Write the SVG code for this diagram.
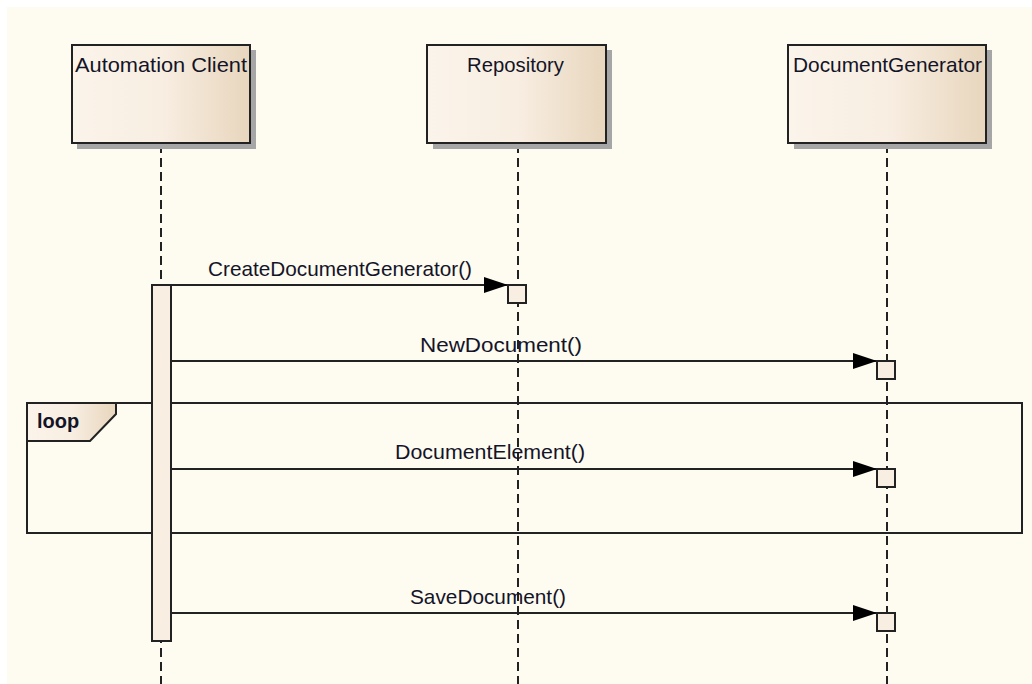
<svg xmlns="http://www.w3.org/2000/svg" width="1032" height="684" viewBox="0 0 1032 684">
<defs>
<linearGradient id="g" x1="0" y1="0" x2="1" y2="0">
<stop offset="0" stop-color="#FBF4EA"/>
<stop offset="0.5" stop-color="#F8EEE2"/>
<stop offset="1" stop-color="#E8D6BD"/>
</linearGradient>
<marker id="ah" markerWidth="24" markerHeight="16" refX="24" refY="8" orient="auto" markerUnits="userSpaceOnUse">
<path d="M0,0 L24,8 L0,16 Z" fill="#000"/>
</marker>
<style>
.t{font-family:"Liberation Sans",Arial,sans-serif;font-size:21px;fill:#141428}
.c{text-anchor:middle}
.box{fill:url(#g);stroke:#222;stroke-width:2}
.sh{fill:#A6A6A6}
.life{stroke:#222;stroke-width:2;stroke-dasharray:9 5;fill:none}
.msg{stroke:#222;stroke-width:2;fill:none}
.act{fill:#F8EEE2;stroke:#222;stroke-width:2}
.frame{fill:none;stroke:#222;stroke-width:2}
</style>
</defs>
<rect x="0" y="0" width="1032" height="684" fill="#FFFFFF"/>
<rect x="7" y="7" width="1025" height="677" fill="#FEFBF1"/>

<g id="lifelines">
<line class="life" x1="161" y1="144" x2="161" y2="684"/>
<line class="life" x1="518" y1="144" x2="518" y2="684"/>
<line class="life" x1="887" y1="144" x2="887" y2="684"/>
</g>

<g id="node-automation-client">
<rect class="sh" x="77" y="50" width="179" height="99"/>
<rect class="box" x="72" y="45" width="178" height="98"/>
<text class="t" x="75" y="72" textLength="172" lengthAdjust="spacingAndGlyphs">Automation Client</text>
</g>
<g id="node-repository">
<rect class="sh" x="433" y="50" width="179" height="99"/>
<rect class="box" x="427" y="45" width="179" height="98"/>
<text class="t" x="467" y="72" textLength="97" lengthAdjust="spacingAndGlyphs">Repository</text>
</g>
<g id="node-documentgenerator">
<rect class="sh" x="794" y="50" width="198" height="99"/>
<rect class="box" x="788" y="45" width="198" height="98"/>
<text class="t" x="793" y="72" textLength="189" lengthAdjust="spacingAndGlyphs">DocumentGenerator</text>
</g>

<g id="loop-frame">
<rect class="frame" x="27" y="403" width="995" height="130"/>
<path d="M27,403 L116,403 L116,414 L90,441 L27,441 Z" fill="url(#g)" stroke="#222" stroke-width="2"/>
<text class="t" x="37" y="428" style="font-weight:bold;font-size:20px">loop</text>
</g>

<g id="activation-client">
<rect class="act" x="152" y="285" width="19" height="356"/>
</g>

<g id="connectors">
<line class="msg" x1="171" y1="285" x2="508" y2="285" marker-end="url(#ah)"/>
<line class="msg" x1="171" y1="361" x2="877" y2="361" marker-end="url(#ah)"/>
<line class="msg" x1="171" y1="469" x2="877" y2="469" marker-end="url(#ah)"/>
<line class="msg" x1="171" y1="613" x2="877" y2="613" marker-end="url(#ah)"/>
<text class="t" x="208" y="276" textLength="264" lengthAdjust="spacingAndGlyphs">CreateDocumentGenerator()</text>
<text class="t" x="420" y="352" textLength="162" lengthAdjust="spacingAndGlyphs">NewDocument()</text>
<text class="t" x="395" y="459" textLength="190" lengthAdjust="spacingAndGlyphs">DocumentElement()</text>
<text class="t" x="410" y="604" textLength="156" lengthAdjust="spacingAndGlyphs">SaveDocument()</text>
</g>

<g id="activations-targets">
<rect class="act" x="508" y="285" width="18" height="18"/>
<rect class="act" x="877" y="361" width="18" height="18"/>
<rect class="act" x="877" y="469" width="18" height="18"/>
<rect class="act" x="877" y="613" width="18" height="18"/>
</g>
</svg>
